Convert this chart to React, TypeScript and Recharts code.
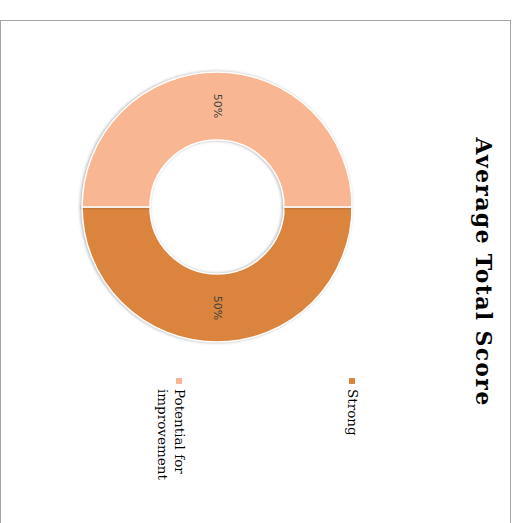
import { PieChart, Pie, Cell, Legend } from "recharts";

const categories = ["Strong", "Potential for improvement"];
const values = [50, 50];
const colors = ["#DA843E", "#F8B792"];

const data = categories.map((name, i) => ({ name, value: values[i] }));

// chart is drawn in its normal orientation, then the whole frame is turned 90deg clockwise
const FRAME_W = 520;
const FRAME_H = 511;

const RADIAN = Math.PI / 180;

const renderLabel = (props: any) => {
  const { cx, cy, midAngle, innerRadius, outerRadius, percent } = props;
  const r = (innerRadius + outerRadius) / 2;
  const x = cx + r * Math.cos(-midAngle * RADIAN);
  const y = cy + r * Math.sin(-midAngle * RADIAN);
  return (
    <text
      x={x}
      y={y}
      fill="#404040"
      fontSize={11}
      fontFamily="DejaVu Sans"
      textAnchor="middle"
      dominantBaseline="central"
    >
      {`${(percent * 100).toFixed(0)}%`}
    </text>
  );
};

const renderLegend = (props: any) => {
  // keep the series order, not alphabetical
  const payload = [...(props.payload || [])].sort(
    (a: any, b: any) => categories.indexOf(a.value) - categories.indexOf(b.value)
  );
  return (
    <div style={{ display: "flex", flexDirection: "column", gap: 156 }}>
      {payload.map((entry: any, i: number) => (
        <div key={`leg-${i}`} style={{ display: "flex", alignItems: "flex-start" }}>
          <span
            style={{
              width: 6,
              height: 6,
              marginTop: 5.5,
              marginRight: 5,
              flex: "none",
              background: entry.color,
            }}
          />
          <span
            style={{
              width: 100,
              fontFamily: "DejaVu Serif",
              fontSize: 13.5,
              lineHeight: "17px",
              color: "#000",
            }}
          >
            {entry.value}
          </span>
        </div>
      ))}
    </div>
  );
};

export default function App() {
  return (
    <div
      style={{
        position: "absolute",
        left: 0,
        top: 0,
        width: 518,
        height: 523,
        overflow: "hidden",
        background: "#fff",
      }}
    >
      <style>{`.recharts-pie-sector { filter: drop-shadow(0 1.5px 1.5px rgba(0,0,0,0.3)); }`}</style>
      <div
        style={{
          position: "absolute",
          left: 511,
          top: 20,
          width: FRAME_W,
          height: FRAME_H,
          transform: "rotate(90deg)",
          transformOrigin: "0 0",
          boxSizing: "border-box",
          border: "1px solid #a6a6a6",
          background: "#fff",
        }}
      >
        <div
          style={{
            position: "absolute",
            left: 0,
            top: 15,
            width: 502,
            textAlign: "center",
            fontFamily: "DejaVu Serif",
            fontWeight: "bold",
            fontSize: 22,
            letterSpacing: 1.3,
            lineHeight: 1,
            color: "#000",
          }}
        >
          Average Total Score
        </div>
        <div style={{ position: "absolute", left: -1, top: -1 }}>
          <PieChart width={FRAME_W} height={FRAME_H} margin={{ top: 0, right: 0, bottom: 0, left: 0 }}>
            <Pie
              data={data}
              dataKey="value"
              nameKey="name"
              cx={187}
              cy={294}
              innerRadius={67}
              outerRadius={135}
              startAngle={90}
              endAngle={-270}
              stroke="#fff"
              strokeWidth={1.5}
              labelLine={false}
              label={renderLabel}
              isAnimationActive={false}
            >
              {data.map((entry, i) => (
                <Cell key={`cell-${i}`} fill={colors[i]} />
              ))}
            </Pie>
            <Legend
              layout="vertical"
              content={renderLegend}
              wrapperStyle={{ left: 358, top: 150, width: 120, bottom: "auto", right: "auto" }}
            />
          </PieChart>
        </div>
      </div>
    </div>
  );
}
